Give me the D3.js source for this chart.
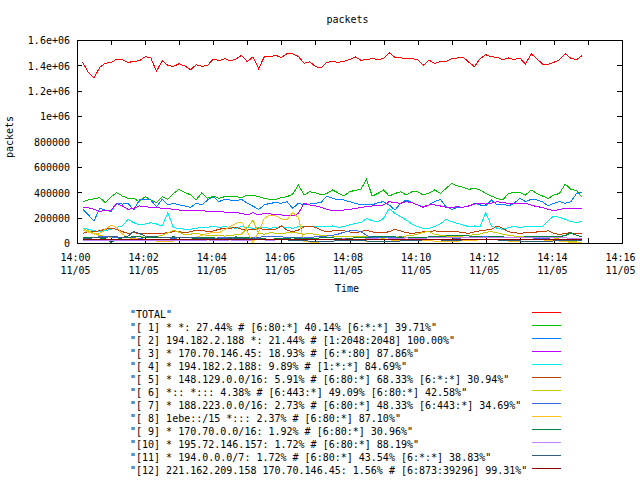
<!DOCTYPE html>
<html><head><meta charset="utf-8">
<script src="https://cdn.jsdelivr.net/npm/d3@7"></script>
<style>
body{margin:0;background:#fff}
svg{display:block}
text{font-family:"DejaVu Sans Mono",monospace;font-size:10px;fill:#000}
</style></head><body>
<svg id="c" width="640" height="480"></svg>
<script>
// seconds after 14:00:00 on 11/05
const seconds=[10,20,30,40,50,60,70,80,90,100,110,120,130,140,150,160,170,180,190,200,210,220,230,240,250,260,270,280,290,300,310,320,330,340,350,360,370,380,390,400,410,420,430,440,450,460,470,480,490,500,510,520,530,540,550,560,570,580,590,600,610,620,630,640,650,660,670,680,690,700,710,720,730,740,750,760,770,780,790,800,810,820,830,840,850,860,870,880,890];

const total=[1424000,1345000,1300000,1384000,1418000,1421000,1450000,1445000,1424000,1430000,
1437000,1468000,1460000,1353000,1437000,1400000,1392000,1413000,1395000,1366000,
1405000,1392000,1400000,1450000,1437000,1453000,1437000,1450000,1479000,1429000,
1468000,1374000,1468000,1468000,1479000,1463000,1492000,1490000,1471000,1416000,
1429000,1390000,1379000,1424000,1432000,1424000,1432000,1445000,1468000,1440000,
1447000,1453000,1447000,1453000,1500000,1463000,1460000,1453000,1453000,1445000,
1400000,1442000,1416000,1429000,1432000,1453000,1458000,1466000,1426000,1390000,
1453000,1484000,1468000,1463000,1445000,1458000,1445000,1458000,1410000,1492000,
1453000,1410000,1408000,1424000,1445000,1492000,1455000,1445000,1479000];

const s1=[326000,339000,349000,357000,318000,365000,397000,370000,352000,352000,
326000,365000,339000,318000,365000,344000,391000,423000,397000,380000,
339000,397000,352000,370000,352000,365000,365000,365000,357000,378000,
378000,365000,352000,344000,344000,357000,365000,386000,457000,378000,
404000,397000,378000,391000,418000,395000,370000,404000,415000,423000,
502000,370000,391000,418000,370000,390000,404000,378000,404000,404000,
378000,395000,418000,391000,430000,470000,450000,440000,423000,431000,
418000,391000,370000,352000,339000,391000,397000,397000,378000,418000,
391000,370000,352000,378000,391000,465000,423000,412000,360000];

const s2=[265000,221000,173000,273000,260000,247000,313000,307000,313000,260000,
339000,344000,339000,286000,344000,300000,313000,300000,292000,281000,
313000,300000,339000,365000,326000,344000,339000,334000,344000,313000,
290000,265000,300000,313000,318000,313000,326000,273000,313000,300000,
307000,313000,320000,370000,352000,339000,339000,326000,313000,300000,
300000,300000,318000,326000,300000,260000,313000,339000,318000,300000,
286000,300000,326000,344000,286000,265000,281000,281000,292000,313000,
300000,292000,339000,300000,307000,292000,313000,352000,326000,344000,
339000,326000,292000,313000,326000,313000,326000,391000,397000];

const s3=[281000,278000,265000,247000,260000,260000,313000,292000,265000,273000,
292000,286000,281000,281000,273000,271000,265000,260000,260000,255000,
255000,255000,250000,252000,247000,244000,239000,239000,234000,221000,
239000,221000,234000,229000,226000,221000,213000,213000,234000,313000,
300000,292000,281000,265000,255000,255000,260000,265000,271000,281000,
286000,292000,297000,300000,326000,318000,313000,326000,318000,300000,
281000,300000,300000,292000,281000,281000,286000,281000,292000,307000,
313000,307000,313000,326000,318000,313000,307000,313000,313000,300000,
286000,281000,265000,255000,265000,271000,273000,273000,273000];

const s4=[116000,108000,97000,89000,97000,108000,123000,134000,187000,160000,
142000,150000,160000,150000,134000,239000,120000,116000,108000,108000,
116000,123000,123000,134000,123000,129000,123000,116000,129000,123000,
116000,123000,123000,116000,123000,129000,123000,116000,129000,134000,
129000,129000,134000,129000,134000,123000,129000,142000,155000,160000,
194000,176000,168000,194000,273000,234000,208000,181000,150000,129000,
116000,116000,129000,150000,187000,168000,155000,142000,129000,134000,
129000,239000,134000,116000,108000,123000,129000,123000,129000,129000,
129000,129000,176000,213000,202000,187000,168000,163000,168000];

const s5=[76000,89000,89000,97000,108000,116000,108000,89000,76000,81000,
76000,71000,76000,71000,76000,81000,89000,89000,81000,89000,
102000,102000,89000,95000,108000,116000,116000,123000,108000,102000,
108000,113000,108000,102000,108000,134000,102000,89000,102000,129000,
134000,123000,102000,89000,95000,102000,97000,87000,81000,89000,
102000,87000,81000,81000,89000,108000,95000,81000,76000,81000,
89000,89000,97000,87000,95000,89000,89000,81000,76000,87000,
97000,102000,108000,134000,116000,89000,81000,76000,81000,81000,
87000,87000,97000,76000,66000,76000,81000,71000,76000];

const s6=[115000,95000,75000,60000,50000,45000,45000,42000,45000,48000,
50000,45000,42000,50000,60000,80000,100000,85000,65000,70000,
75000,68000,60000,62000,58000,55000,60000,65000,70000,120000,
180000,75000,70000,80000,78000,75000,80000,82000,78000,70000,
75000,68000,60000,58000,55000,52000,50000,48000,52000,55000,
50000,45000,40000,38000,42000,45000,50000,55000,60000,70000,
85000,90000,70000,60000,55000,50000,52000,55000,60000,65000,
70000,85000,90000,80000,70000,60000,55000,50000,48000,45000,
50000,48000,45000,40000,30000,20000,10000,15000,20000];

const s7=[40000,42000,45000,48000,50000,48000,45000,42000,45000,40000,
38000,40000,42000,45000,42000,40000,38000,40000,42000,45000,
45000,42000,40000,38000,40000,42000,45000,48000,45000,40000,
42000,45000,50000,55000,52000,48000,45000,42000,40000,42000,
45000,48000,50000,55000,60000,70000,85000,95000,98000,90000,
60000,45000,42000,40000,42000,45000,48000,45000,42000,40000,
38000,40000,42000,45000,42000,40000,38000,40000,42000,45000,
48000,50000,48000,45000,42000,40000,42000,45000,42000,40000,
38000,35000,32000,30000,28000,30000,32000,30000,28000];

const s8=[100000,85000,70000,75000,110000,140000,120000,70000,40000,35000,
30000,25000,20000,15000,10000,12000,15000,20000,25000,30000,
45000,60000,75000,85000,80000,105000,130000,155000,165000,90000,
5000,90000,195000,220000,215000,190000,185000,240000,200000,10000,
8000,5000,10000,12000,15000,18000,20000,22000,20000,18000,
15000,12000,10000,12000,15000,18000,20000,22000,25000,22000,
20000,18000,15000,12000,10000,12000,15000,18000,20000,22000,
25000,28000,30000,25000,20000,15000,12000,10000,8000,10000,
12000,15000,18000,20000,15000,10000,5000,3000,2000];

const s9=[45000,45000,42000,40000,35000,5000,30000,40000,45000,50000,
48000,45000,42000,40000,42000,45000,48000,45000,42000,40000,
38000,40000,42000,40000,38000,35000,38000,40000,42000,40000,
38000,35000,32000,30000,32000,35000,38000,40000,38000,35000,
35000,38000,40000,42000,40000,38000,35000,38000,40000,42000,
45000,48000,50000,55000,52000,48000,45000,42000,40000,42000,
45000,48000,50000,52000,55000,58000,63000,60000,55000,50000,
48000,45000,50000,52000,48000,45000,42000,45000,48000,50000,
52000,55000,50000,48000,52000,58000,80000,60000,50000];

const s10=[20000,20000,22000,20000,18000,20000,22000,20000,18000,20000,
22000,20000,18000,20000,22000,20000,18000,20000,22000,20000,
20000,22000,24000,22000,20000,22000,24000,22000,20000,22000,
24000,26000,24000,22000,24000,26000,28000,26000,24000,26000,
28000,30000,28000,26000,28000,30000,32000,30000,28000,30000,
32000,34000,32000,30000,32000,35000,38000,40000,38000,36000,
38000,40000,42000,44000,42000,40000,42000,44000,45000,44000,
42000,44000,46000,45000,44000,42000,44000,46000,45000,44000,
42000,44000,45000,44000,42000,40000,38000,36000,35000];

const s11=[38000,38000,40000,42000,45000,50000,48000,45000,55000,90000,
75000,55000,50000,48000,45000,42000,40000,42000,45000,42000,
40000,38000,36000,35000,36000,38000,40000,38000,36000,35000,
34000,32000,30000,28000,26000,25000,24000,22000,20000,18000,
15000,12000,10000,12000,15000,18000,20000,22000,20000,18000,
16000,14000,12000,10000,12000,14000,16000,18000,20000,22000,
24000,26000,25000,24000,22000,20000,22000,24000,26000,28000,
30000,28000,26000,24000,22000,20000,18000,16000,14000,12000,
10000,12000,14000,16000,18000,20000,22000,20000,18000];

const s12=[25000,25000,24000,24000,25000,26000,25000,24000,24000,25000,
25000,24000,24000,25000,25000,24000,24000,25000,25000,24000,
24000,25000,25000,24000,24000,25000,25000,24000,24000,25000,
25000,24000,24000,25000,25000,24000,24000,25000,25000,24000,
24000,25000,25000,24000,24000,25000,25000,24000,24000,25000,
25000,24000,24000,25000,25000,24000,24000,25000,25000,24000,
24000,25000,25000,24000,24000,25000,25000,24000,24000,25000,
25000,24000,24000,25000,25000,24000,24000,25000,25000,24000,
24000,25000,25000,24000,24000,25000,25000,24000,24000];

const seriesValues=[total,s1,s2,s3,s4,s5,s6,s7,s8,s9,s10,s11,s12];
const seriesNames=[
'"TOTAL"',
'"[ 1] * *: 27.44% # [6:80:*] 40.14% [6:*:*] 39.71%"',
'"[ 2] 194.182.2.188 *: 21.44% # [1:2048:2048] 100.00%"',
'"[ 3] * 170.70.146.45: 18.93% # [6:*:80] 87.86%"',
'"[ 4] * 194.182.2.188: 9.89% # [1:*:*] 84.69%"',
'"[ 5] * 148.129.0.0/16: 5.91% # [6:80:*] 68.33% [6:*:*] 30.94%"',
'"[ 6] *:: *::: 4.38% # [6:443:*] 49.09% [6:80:*] 42.58%"',
'"[ 7] * 188.223.0.0/16: 2.73% # [6:80:*] 48.33% [6:443:*] 34.69%"',
'"[ 8] 1ebe::/15 *::: 2.37% # [6:80:*] 87.10%"',
'"[ 9] * 170.70.0.0/16: 1.92% # [6:80:*] 30.96%"',
'"[10] * 195.72.146.157: 1.72% # [6:80:*] 88.19%"',
'"[11] * 194.0.0.0/7: 1.72% # [6:80:*] 43.54% [6:*:*] 38.83%"',
'"[12] 221.162.209.158 170.70.146.45: 1.56% # [6:873:39296] 99.31%"'];
const seriesColors=["#ff0000","#00c000","#0080ff","#c000ff","#00eeee","#c04000","#c8c800","#4169e1","#ffc020","#008040","#c080ff","#306080","#8b0000"];

const yTicks=[0,200000,400000,600000,800000,1000000,1200000,1400000,1600000];
const yTickLabels=["0","200000","400000","600000","800000","1e+06","1.2e+06","1.4e+06","1.6e+06"];
const xTickMinutes=[0,2,4,6,8,10,12,14,16];
const xTickTimes=["14:00","14:02","14:04","14:06","14:08","14:10","14:12","14:14","14:16"];
const xTickDates=["11/05","11/05","11/05","11/05","11/05","11/05","11/05","11/05","11/05"];
const xMinorMinutes=[0,1,2,3,4,5,6,7,8,9,10,11,12,13,14,15,16];

const svg=d3.select("#c");
const L=77,R=622,T=40,B=243;
const base=new Date(2000,10,5,14,0,0);
const at=s=>new Date(base.getTime()+s*1000);
const x=d3.scaleTime().domain([at(0),at(960)]).range([L,R]);
const y=d3.scaleLinear().domain([0,1600000]).range([B,T]);

// ticks on all four sides, pointing inward
const tickVals=xMinorMinutes.map(m=>at(m*60));
function tickGroup(axis,tx,ty){
  const g=svg.append("g").attr("transform",`translate(${tx},${ty})`).call(axis);
  g.select(".domain").remove();
  g.selectAll("line").attr("stroke","#000").attr("shape-rendering","crispEdges");
  g.selectAll("text").remove();
  return g;
}
tickGroup(d3.axisBottom(x).tickValues(tickVals).tickSize(-5),0,B);
tickGroup(d3.axisTop(x).tickValues(tickVals).tickSize(-5),0,T);
tickGroup(d3.axisLeft(y).tickValues(yTicks).tickSize(-5),L,0);
tickGroup(d3.axisRight(y).tickValues(yTicks).tickSize(-5),R,0);

// border
svg.append("rect").attr("x",L).attr("y",T).attr("width",R-L).attr("height",B-T)
  .attr("fill","none").attr("stroke","#000").attr("shape-rendering","crispEdges");

// tick labels
svg.selectAll("text.yl").data(yTicks).join("text").attr("class","yl")
  .attr("x",L-7).attr("y",d=>y(d)+4.3).attr("text-anchor","end")
  .text((d,i)=>yTickLabels[i]);
const xl=svg.selectAll("g.xl").data(xTickMinutes).join("g").attr("class","xl")
  .attr("transform",d=>`translate(${x(at(d*60))-1.5},0)`);
xl.append("text").attr("y",261).attr("text-anchor","middle").text((d,i)=>xTickTimes[i]);
xl.append("text").attr("y",273.5).attr("text-anchor","middle").text((d,i)=>xTickDates[i]);

// titles
svg.append("text").attr("x",347.5).attr("y",23).attr("text-anchor","middle").text("packets");
svg.append("text").attr("x",347).attr("y",292).attr("text-anchor","middle").text("Time");
svg.append("text").attr("transform","translate(13,137) rotate(-90)").attr("text-anchor","middle").text("packets");

// series lines
const line=d3.line().x((d,i)=>x(at(seconds[i]))).y(d=>y(d));
svg.append("g").selectAll("path").data(seriesValues).join("path")
  .attr("d",d=>line(d)).attr("fill","none")
  .attr("stroke",(d,i)=>seriesColors[i]).attr("stroke-width",1)
  .attr("shape-rendering","crispEdges");

// legend
const lg=svg.append("g").selectAll("g").data(seriesNames).join("g");
lg.append("text").attr("x",130).attr("y",(d,i)=>317.5+13*i).text(d=>d);
lg.append("line").attr("x1",532).attr("x2",561)
  .attr("y1",(d,i)=>312.5+13*i).attr("y2",(d,i)=>312.5+13*i)
  .attr("stroke",(d,i)=>seriesColors[i]).attr("shape-rendering","crispEdges");
</script>
</body></html>
